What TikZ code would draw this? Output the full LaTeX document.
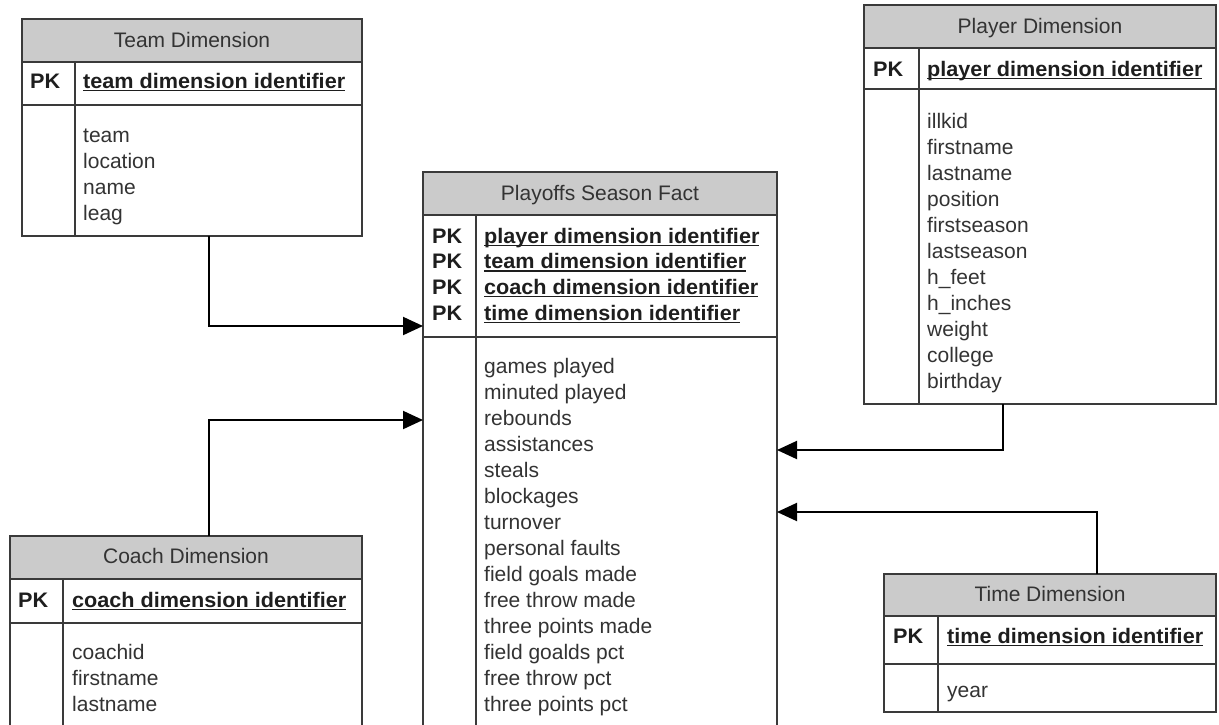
\documentclass[tikz,border=0pt]{standalone}
\usepackage{fontspec}
\setmainfont{Liberation Sans}
\newfontfamily\pkfont{Liberation Sans}[BoldFeatures={FakeStretch=1.03}]
\usetikzlibrary{arrows.meta}
\definecolor{hdrgray}{HTML}{CBCBCB}
\definecolor{boxline}{HTML}{3A3A3A}
\definecolor{txt}{HTML}{333333}
\definecolor{pktxt}{HTML}{1E1E1E}
\newcommand\pkul[1]{\setbox0\hbox{#1}\rlap{\rule[-2.8pt]{\wd0}{1.3pt}}\box0}
\tikzset{
  hdrbox/.style={draw=boxline, fill=hdrgray, line width=1.4pt, anchor=north west, inner sep=0pt, outer sep=0pt},
  cellbox/.style={draw=boxline, fill=white, line width=1.4pt, anchor=north west, inner sep=0pt, outer sep=0pt},
  divider/.style={draw=boxline, line width=1.4pt},
  title/.style={anchor=base, inner sep=0pt, font=\fontsize{21}{26}\selectfont, text=txt},
  pklabel/.style={anchor=base west, inner sep=0pt, font=\pkfont\fontsize{21}{26}\selectfont\bfseries, text=pktxt},
  field/.style={anchor=base west, inner sep=0pt, font=\fontsize{21}{26}\selectfont, text=txt},
  conn/.style={draw=black, line width=2pt, -{Triangle[length=20pt,width=18pt]}},
}
\begin{document}
\begin{tikzpicture}[x=1pt,y=-1pt]
\useasboundingbox (0,0) rectangle (1219,724);
\clip (0,0) rectangle (1219,724);
\fill[white] (0,0) rectangle (1219,724);

% ---------- Team Dimension ----------
\node[hdrbox, minimum width=340pt, minimum height=43pt] (teamh) at (22,19) {};
\node[cellbox, minimum width=340pt, minimum height=43pt] (teampk) at (22,62) {};
\node[cellbox, minimum width=340pt, minimum height=131pt] (teamb) at (22,105) {};
\draw[divider] (75,62) -- (75,236);
\node[title] (teamt) at (192,47) {Team Dimension};
\node[pklabel] (teampk1) at (30,88) {PK};
\node[pklabel] (teamid) at (83,88) {\pkul{team dimension identifier}};
\foreach \t [count=\i from 0] in {team,location,name,leag}
  \node[field] (teamf\i) at (83,142+26*\i) {\t};

% ---------- Player Dimension ----------
\node[hdrbox, minimum width=352pt, minimum height=43pt] (playerh) at (864,5) {};
\node[cellbox, minimum width=352pt, minimum height=41pt] (playerpk) at (864,48) {};
\node[cellbox, minimum width=352pt, minimum height=315pt] (playerb) at (864,89) {};
\draw[divider] (919,48) -- (919,404);
\node[title] (playert) at (1040,33) {Player Dimension};
\node[pklabel] (playerpk1) at (873,76) {PK};
\node[pklabel] (playerid) at (927,76) {\pkul{player dimension identifier}};
\foreach \t [count=\i from 0] in {illkid,firstname,lastname,position,firstseason,lastseason,h\_feet,h\_inches,weight,college,birthday}
  \node[field] (playerf\i) at (927,128+26*\i) {\t};

% ---------- Playoffs Season Fact ----------
\node[hdrbox, minimum width=354pt, minimum height=43pt] (facth) at (423,172) {};
\node[cellbox, minimum width=354pt, minimum height=122pt] (factpk) at (423,215) {};
\node[cellbox, minimum width=354pt, minimum height=400pt] (factb) at (423,337) {};
\draw[divider] (476,215) -- (476,740);
\node[title] (factt) at (600,200) {Playoffs Season Fact};
\foreach \t [count=\i from 0] in {player,team,coach,time}{
  \node[pklabel] (factpkl\i) at (432,243+25.7*\i) {PK};
  \node[pklabel] (factid\i) at (484,243+25.7*\i) {\pkul{\t\ dimension identifier}};
}
\foreach \t [count=\i from 0] in {games played,minuted played,rebounds,assistances,steals,blockages,turnover,personal faults,field goals made,free throw made,three points made,field goalds pct,free throw pct,three points pct}
  \node[field] (factf\i) at (484,373+26*\i) {\t};

% ---------- Coach Dimension ----------
\node[hdrbox, minimum width=352pt, minimum height=43pt] (coachh) at (10,536) {};
\node[cellbox, minimum width=352pt, minimum height=44pt] (coachpk) at (10,579) {};
\node[cellbox, minimum width=352pt, minimum height=120pt] (coachb) at (10,623) {};
\draw[divider] (63,579) -- (63,745);
\node[title] (coacht) at (186,563) {Coach Dimension};
\node[pklabel] (coachpk1) at (18,607) {PK};
\node[pklabel] (coachid) at (72,607) {\pkul{coach dimension identifier}};
\foreach \t [count=\i from 0] in {coachid,firstname,lastname}
  \node[field] (coachf\i) at (72,659+26*\i) {\t};

% ---------- Time Dimension ----------
\node[hdrbox, minimum width=332pt, minimum height=42pt] (timeh) at (884,574) {};
\node[cellbox, minimum width=332pt, minimum height=48pt] (timepk) at (884,616) {};
\node[cellbox, minimum width=332pt, minimum height=48pt] (timeb) at (884,664) {};
\draw[divider] (938,616) -- (938,712);
\node[title] (timet) at (1050,601) {Time Dimension};
\node[pklabel] (timepk1) at (893,643) {PK};
\node[pklabel] (timeid) at (947,643) {\pkul{time dimension identifier}};
\node[field] (timef0) at (947,697) {year};

% ---------- Connectors ----------
\coordinate (tbend) at (209,326);
\draw[conn] (tbend |- teamb.south) -- (tbend) -- (tbend -| factpk.west);
\coordinate (cbend) at (209,420);
\draw[conn] (cbend |- coachh.north) -- (cbend) -- (cbend -| factb.west);
\coordinate (pbend) at (1003,450);
\draw[conn] (pbend |- playerb.south) -- (pbend) -- (pbend -| factb.east);
\coordinate (tmbend) at (1097,512);
\draw[conn] (tmbend |- timeh.north) -- (tmbend) -- (tmbend -| factb.east);
\end{tikzpicture}
\end{document}
